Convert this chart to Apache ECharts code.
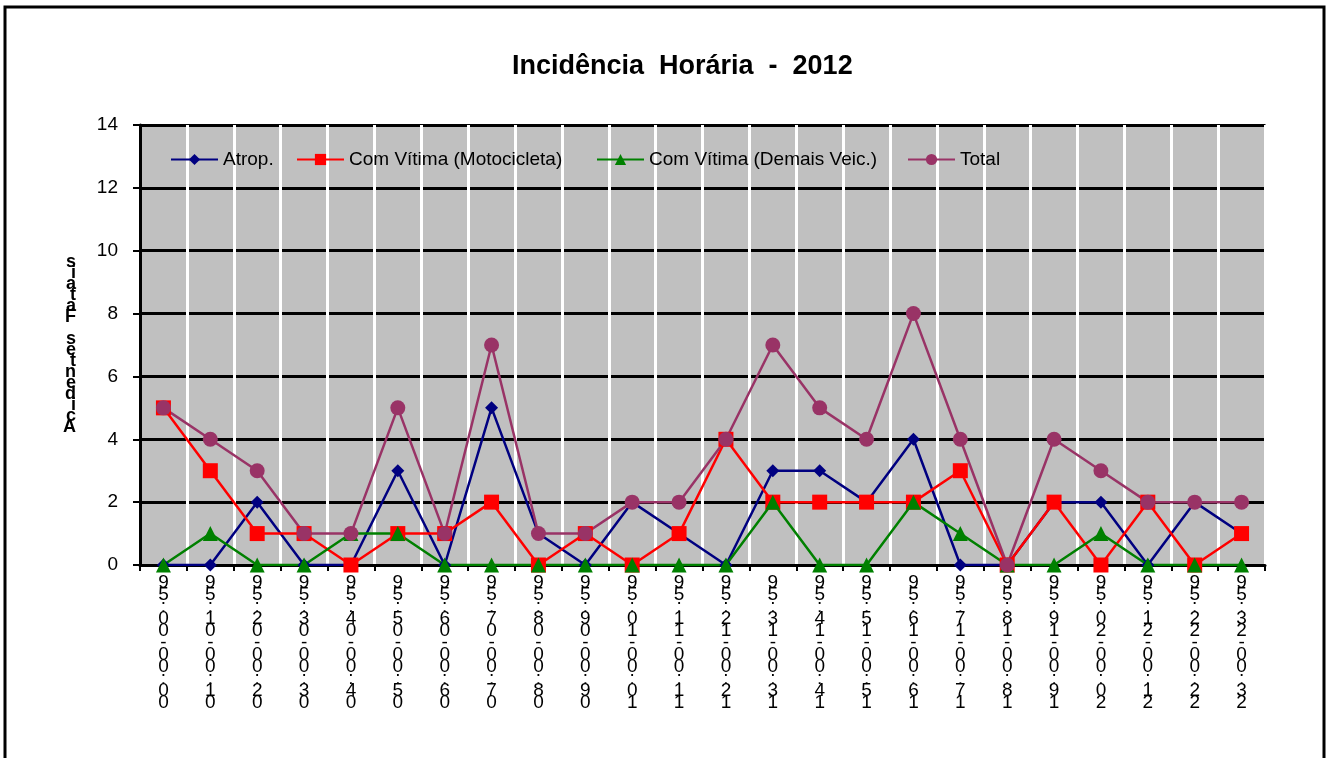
<!DOCTYPE html>
<html>
<head>
<meta charset="utf-8">
<script src="https://cdn.jsdelivr.net/npm/echarts@6/dist/echarts.min.js"></script>
<style>
  html, body { margin: 0; padding: 0; background: #fff; }
  #chart { width: 1330px; height: 758px; }
</style>
</head>
<body>
<div id="chart"></div>
<script>
const hours = ['00:00-00:59', '01:00-01:59', '02:00-02:59', '03:00-03:59', '04:00-04:59', '05:00-05:59',
  '06:00-06:59', '07:00-07:59', '08:00-08:59', '09:00-09:59', '10:00-10:59', '11:00-11:59',
  '12:00-12:59', '13:00-13:59', '14:00-14:59', '15:00-15:59', '16:00-16:59', '17:00-17:59',
  '18:00-18:59', '19:00-19:59', '20:00-20:59', '21:00-21:59', '22:00-22:59', '23:00-23:59']
const atrop = [0, 0, 2, 0, 0, 3, 0, 5, 1, 0, 2, 1, 0, 3, 3, 2, 4, 0, 0, 2, 2, 0, 2, 1]
const moto = [5, 3, 1, 1, 0, 1, 1, 2, 0, 1, 0, 1, 4, 2, 2, 2, 2, 3, 0, 2, 0, 2, 0, 1]
const demais = [0, 1, 0, 0, 1, 1, 0, 0, 0, 0, 0, 0, 0, 2, 0, 0, 2, 1, 0, 0, 1, 0, 0, 0]
const total = [5, 4, 3, 1, 1, 5, 1, 7, 1, 1, 2, 2, 4, 7, 5, 4, 8, 4, 0, 4, 3, 2, 2, 2]
const seriesNames = ['Atrop.', 'Com Vítima (Motocicleta)', 'Com Vítima (Demais Veic.)', 'Total']
const yTitle = 'Acidentes Fatais'

// Excel empilha os caracteres de baixo para cima
function stack(s) {
  return s.split('').reverse().join('\n')
}

const chart = echarts.init(document.getElementById('chart'))
const font = 'Arial, "Liberation Sans", sans-serif'

function line(name, data, color, symbol, size) {
  return {
    name: name,
    type: 'line',
    data: data,
    symbol: symbol,
    symbolSize: size,
    lineStyle: { color: color, width: 2.5 },
    itemStyle: { color: color },
    emphasis: { disabled: true }
  }
}

// uma legenda por item, para acertar as posicoes
const legendLeft = [170, 296, 596, 907]
const legends = seriesNames.map(function (n, i) {
  return {
    top: 150,
    left: legendLeft[i],
    padding: 0,
    itemWidth: 47,
    itemHeight: 14,
    textStyle: { fontSize: 19, color: '#000', fontFamily: font },
    data: [n]
  }
})

const option = {
  animation: false,
  textStyle: { fontFamily: font },
  graphic: [{
    type: 'rect',
    shape: { x: 5, y: 7, width: 1319, height: 760 },
    style: { fill: 'none', stroke: '#000', lineWidth: 3 }
  }],
  title: {
    text: 'Incidência  Horária  -  2012',
    left: 507,
    top: 48,
    textStyle: { fontSize: 27, fontWeight: 'bold', color: '#000', fontFamily: font }
  },
  legend: legends,
  grid: {
    left: 140,
    right: 65,
    top: 125,
    bottom: 193,
    show: true,
    backgroundColor: '#C0C0C0',
    borderColor: '#808080',
    borderWidth: 2
  },
  xAxis: {
    type: 'category',
    data: hours,
    boundaryGap: true,
    axisLine: { lineStyle: { color: '#000', width: 3 } },
    axisTick: { show: true, length: 6, lineStyle: { color: '#000', width: 2 } },
    splitLine: { show: true, lineStyle: { color: '#fff', width: 3 } },
    axisLabel: {
      interval: 0,
      margin: 12,
      fontSize: 19,
      lineHeight: 12,
      color: '#000',
      fontFamily: font,
      verticalAlign: 'top',
      formatter: stack
    }
  },
  yAxis: {
    type: 'value',
    min: 0,
    max: 14,
    interval: 2,
    name: stack(yTitle),
    nameLocation: 'middle',
    nameRotate: 0,
    nameGap: 64,
    nameTextStyle: { fontSize: 18, fontWeight: 'bold', lineHeight: 11, color: '#000', fontFamily: font },
    axisLine: { show: true, lineStyle: { color: '#000', width: 3 } },
    axisTick: { show: true, length: 7, lineStyle: { color: '#000', width: 2 } },
    splitLine: { show: true, lineStyle: { color: '#000', width: 3 } },
    axisLabel: { fontSize: 19, margin: 22, color: '#000', fontFamily: font }
  },
  series: [
    line(seriesNames[0], atrop, '#000080', 'diamond', 13),
    line(seriesNames[1], moto, '#FF0000', 'rect', 15),
    line(seriesNames[2], demais, '#008000', 'triangle', 15),
    line(seriesNames[3], total, '#993366', 'circle', 15)
  ]
}

chart.setOption(option)
</script>
</body>
</html>
